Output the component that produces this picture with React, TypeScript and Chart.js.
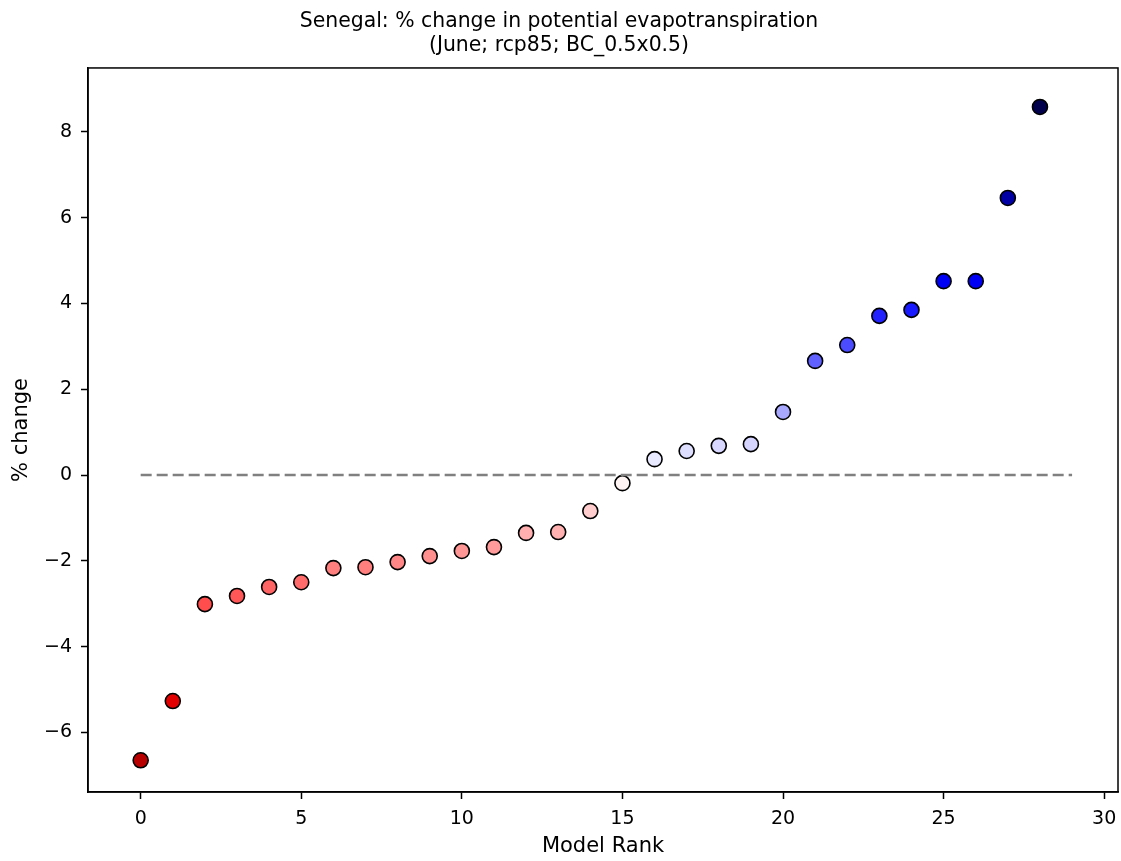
import React, { useEffect, useRef } from "react";
import { Chart, registerables } from "chart.js";

Chart.register(...registerables);

// Model rank on x, percentage change in potential evapotranspiration on y
const modelRanks: number[] = [
  0, 1, 2, 3, 4, 5, 6, 7, 8, 9, 10, 11, 12, 13, 14, 15, 16, 17, 18, 19, 20,
  21, 22, 23, 24, 25, 26, 27, 28,
];
const pctChange: number[] = [
  -6.65, -5.27, -3.01, -2.82, -2.61, -2.5, -2.17, -2.15, -2.03, -1.89, -1.77,
  -1.68, -1.35, -1.33, -0.84, -0.19, 0.37, 0.56, 0.68, 0.72, 1.47, 2.66, 3.03,
  3.71, 3.85, 4.52, 4.52, 6.46, 8.58,
];
// Zero reference line end points
const zeroLineX: number[] = [0, 29];

const xTicks: number[] = [0, 5, 10, 15, 20, 25, 30];
const yTicks: number[] = [-6, -4, -2, 0, 2, 4, 6, 8];

const titleLines: string[] = [
  "Senegal: % change in potential evapotranspiration",
  "(June; rcp85; BC_0.5x0.5)",
];

// Reversed "seismic" colormap: dark red -> red -> white -> blue -> dark blue
function seismicR(t: number): string {
  const s = 1 - Math.min(1, Math.max(0, t));
  const stops: [number, number, number, number][] = [
    [0, 0, 0, 0.3],
    [0.25, 0, 0, 1],
    [0.5, 1, 1, 1],
    [0.75, 1, 0, 0],
    [1, 0.5, 0, 0],
  ];
  for (let i = 0; i < stops.length - 1; i++) {
    const a = stops[i];
    const b = stops[i + 1];
    if (s >= a[0] && s <= b[0]) {
      const f = (s - a[0]) / (b[0] - a[0]);
      const c = [1, 2, 3].map((k) => Math.round((a[k] + (b[k] - a[k]) * f) * 255));
      return `rgb(${c[0]},${c[1]},${c[2]})`;
    }
  }
  return "rgb(0,0,77)";
}

const FONT = "'DejaVu Sans', sans-serif";

const frame = {
  id: "frame",
  afterDatasetsDraw(chart: Chart) {
    const { ctx, chartArea } = chart;
    ctx.save();
    ctx.strokeStyle = "#000";
    ctx.lineWidth = 1.5;
    ctx.strokeRect(
      chartArea.left,
      chartArea.top,
      chartArea.right - chartArea.left,
      chartArea.bottom - chartArea.top
    );
    ctx.restore();
  },
};

export default function App() {
  const canvasRef = useRef<HTMLCanvasElement | null>(null);

  useEffect(() => {
    document.body.style.margin = "0";
    const canvas = canvasRef.current;
    if (!canvas) return;

    const vmax = Math.max(...pctChange.map((v) => Math.abs(v)));
    const colors = pctChange.map((v) => seismicR(0.5 + v / (2 * vmax)));

    const chart = new Chart(canvas, {
      type: "scatter",
      data: {
        datasets: [
          {
            type: "line",
            data: zeroLineX.map((x) => ({ x, y: 0 })),
            borderColor: "#808080",
            borderWidth: 2.5,
            borderDash: [11, 5],
            pointRadius: 0,
            fill: false,
            order: 0,
          },
          {
            type: "scatter",
            data: modelRanks.map((x, i) => ({ x, y: pctChange[i] })),
            backgroundColor: colors,
            borderColor: "#000",
            borderWidth: 1.6,
            pointRadius: 7.5,
            order: 1,
          },
        ],
      },
      options: {
        responsive: false,
        animation: false,
        devicePixelRatio: 1,
        layout: { padding: { left: 0, right: 3, top: 0, bottom: 0 } },
        plugins: {
          legend: { display: false },
          tooltip: { enabled: false },
          title: {
            display: true,
            text: titleLines,
            color: "#000",
            font: { family: FONT, size: 20.4, weight: "normal", lineHeight: 1.2 },
            padding: { top: 9, bottom: 10 },
          },
        },
        scales: {
          x: {
            type: "linear",
            min: -1.64,
            max: 30.43,
            afterBuildTicks: (axis: any) => {
              axis.ticks = xTicks.map((value) => ({ value }));
            },
            afterFit: (axis: any) => {
              axis.height = 69;
              axis.paddingLeft = 0;
              axis.paddingRight = 0;
            },
            grid: {
              drawOnChartArea: false,
              drawTicks: true,
              tickLength: 7,
              tickWidth: 1.5,
              tickColor: "#000",
            },
            border: { display: true, color: "#000", width: 1.5 },
            ticks: {
              color: "#000",
              padding: 9,
              maxRotation: 0,
              font: { family: FONT, size: 19 },
            },
            title: {
              display: true,
              text: "Model Rank",
              color: "#000",
              font: { family: FONT, size: 21 },
              padding: { top: 0, bottom: 1.5 },
            },
          },
          y: {
            type: "linear",
            min: -7.39,
            max: 9.49,
            afterBuildTicks: (axis: any) => {
              axis.ticks = yTicks.map((value) => ({ value }));
            },
            afterFit: (axis: any) => {
              axis.width = 88;
              axis.paddingTop = 0;
              axis.paddingBottom = 0;
            },
            grid: {
              drawOnChartArea: false,
              drawTicks: true,
              tickLength: 7,
              tickWidth: 1.5,
              tickColor: "#000",
            },
            border: { display: true, color: "#000", width: 1.5 },
            ticks: {
              color: "#000",
              padding: 9,
              font: { family: FONT, size: 19 },
              callback: (v: any) => String(v).replace("-", "\u2212"),
            },
            title: {
              display: true,
              text: "% change",
              color: "#000",
              font: { family: FONT, size: 21 },
              padding: { top: 8.5, bottom: 0 },
            },
          },
        },
      },
      plugins: [frame],
    });

    // Markers are allowed to overlap the frame, so the datasets should not
    // reserve extra room around the plot area for their point size.
    chart.data.datasets.forEach((_, i) => {
      const ctrl: any = chart.getDatasetMeta(i).controller;
      ctrl.getMaxOverflow = () => 0;
    });
    chart.update();

    return () => chart.destroy();
  }, []);

  return <canvas ref={canvasRef} width={1121} height={861} />;
}
